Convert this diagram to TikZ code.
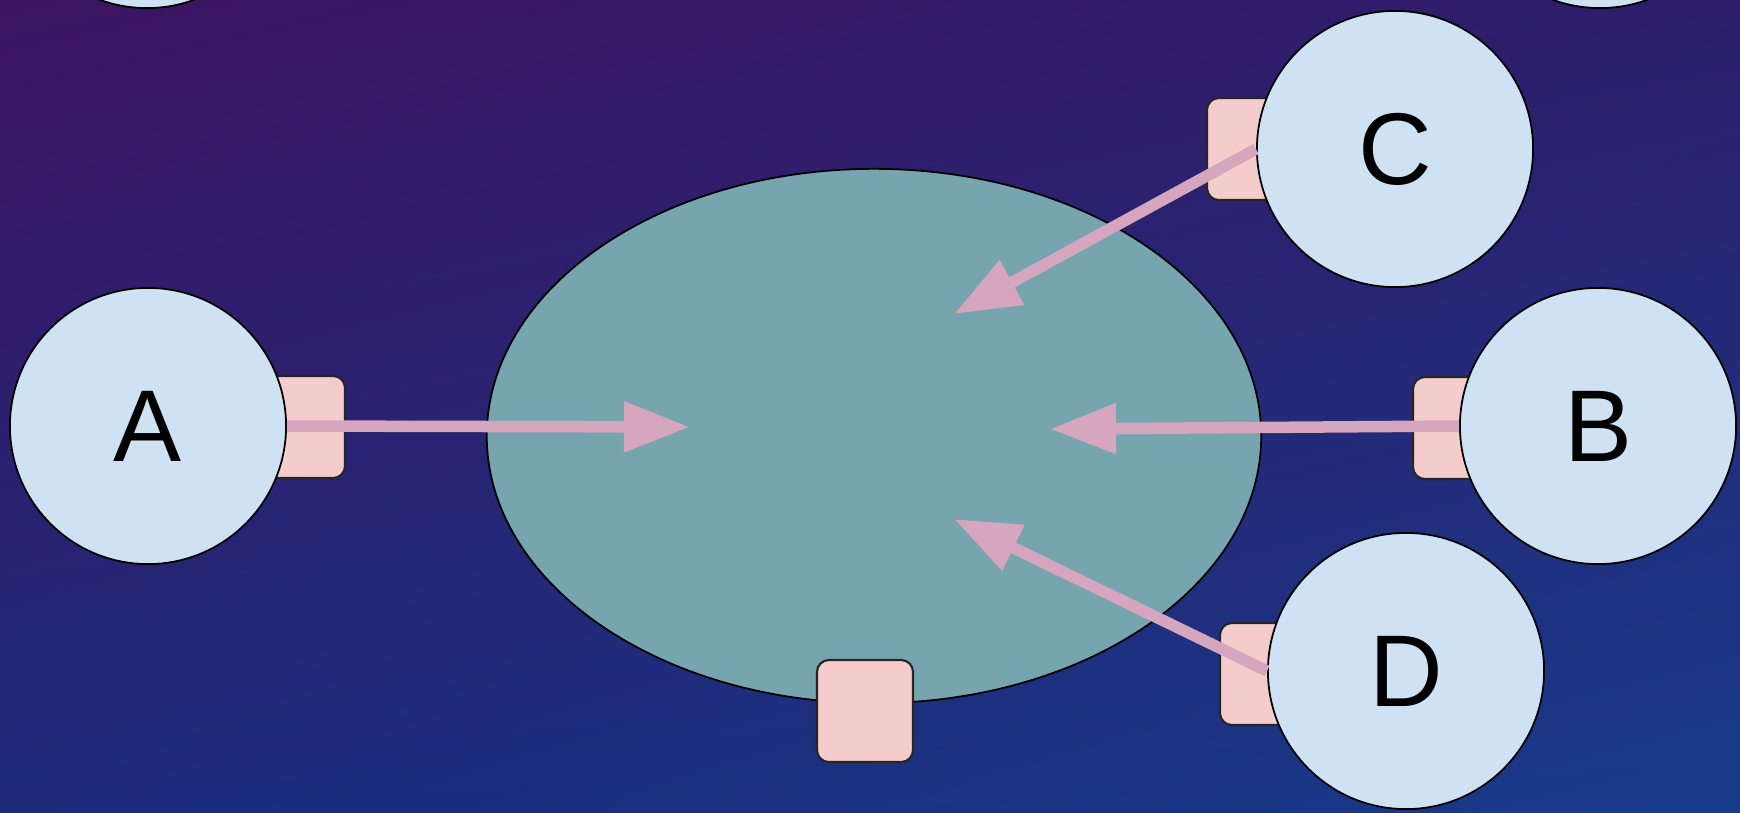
\documentclass[tikz,border=0pt]{standalone}
\usepackage{fontspec}
\setmainfont{Liberation Sans}
\usetikzlibrary{arrows.meta,shapes.geometric,shadings}
\definecolor{skyUL}{HTML}{3D1462}
\definecolor{skyUR}{HTML}{2C1E6C}
\definecolor{skyLL}{HTML}{1C2A7A}
\definecolor{skyLR}{HTML}{173B8A}
\definecolor{peerfill}{HTML}{CFE2F3}
\definecolor{portfill}{HTML}{F4CCCC}
\definecolor{hubfill}{HTML}{76A5AF}
\definecolor{flowpink}{HTML}{D5A6BD}
\begin{document}
\begin{tikzpicture}[x=0.01cm,y=-0.01cm,
    peer/.style={circle, draw=black, line width=0.5pt, fill=peerfill,
      minimum size=2.76cm, inner sep=0pt, font=\fontsize{29}{35}\selectfont},
    port/.style={rectangle, rounded corners=0.12cm, draw=black!85,
      line width=0.6pt, fill=portfill, minimum width=0.96cm, minimum height=1.02cm},
    flow/.style={draw=flowpink, line width=0.115cm,
      -{Triangle[length=0.66cm,width=0.48cm]}}]
  \useasboundingbox (0,0) rectangle (1740,812);
  \clip (0,0) rectangle (1740,812);
  % background
  \shade[upper left=skyUL, upper right=skyUR, lower left=skyLL, lower right=skyLR]
    (0,0) rectangle (1740,812);
  % cut off at the top
  \node[peer] (topleft) at (147,-130) {};
  \node[peer] (topright) at (1600,-130) {};
  % hub
  \node[ellipse, draw=black, line width=0.5pt, fill=hubfill, inner sep=0pt,
    minimum width=7.74cm, minimum height=5.34cm] (hub) at (874,436) {};
  % ports
  \node[port] (portA) at (297,427) {};
  \node[port] (portB) at (1461,428) {};
  \node[port] (portC) at (1255,149) {};
  \node[port] (portD) at (1268,674) {};
  \node[port] (portHub) at (865,711) {};
  % peers
  \node[peer] (A) at (148,426) {A};
  \node[peer] (B) at (1598,426) {B};
  \node[peer] (C) at (1395,149) {C};
  \node[peer] (D) at (1406,671) {D};
  % arrow ends inside the hub
  \coordinate (inA) at (690,427);
  \coordinate (inB) at (1050,429);
  \coordinate (inC) at (954,314);
  \coordinate (inD) at (954,519);
  \draw[flow] (A.east) -- (inA);
  \draw[flow] (B.west) -- (inB);
  \draw[flow] (C.west) -- (inC);
  \draw[flow] (D.west) -- (inD);
\end{tikzpicture}
\end{document}
